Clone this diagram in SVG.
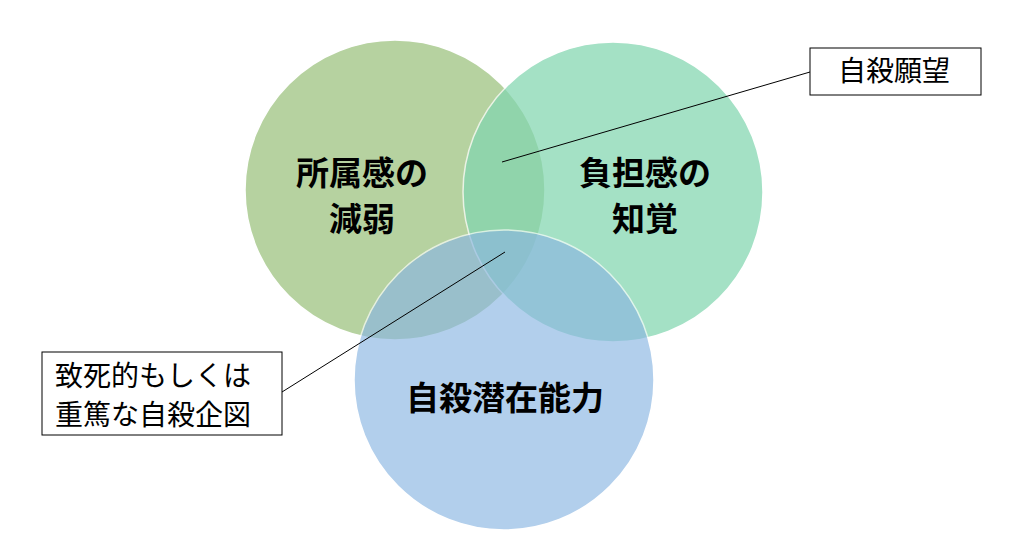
<svg xmlns="http://www.w3.org/2000/svg" width="1011" height="542" viewBox="0 0 1011 542">
<style>
.c{stroke:#fff;stroke-width:1.5;opacity:0.72}
.t{font-family:"Noto Sans CJK JP",sans-serif;font-weight:bold;font-size:33px;fill:#000;text-anchor:middle}
.b{fill:#fff;stroke:#000;stroke-width:1}
.bt{font-family:"Noto Sans CJK JP",sans-serif;font-size:28px;fill:#000}
.l{stroke:#000;stroke-width:1;fill:none}
</style>
<rect width="1011" height="542" fill="#fff"/>
<g id="n1"><circle class="c" cx="395" cy="190" r="150" fill="#9bc27c"/></g>
<g id="n2"><circle class="c" cx="613" cy="192" r="150" fill="#82d6b0"/></g>
<g id="n3"><circle class="c" cx="504" cy="380" r="150" fill="#8ab6e2" style="opacity:0.65"/></g>
<g id="labels">
<text class="t" x="362" y="185">所属感の</text><text class="t" x="362" y="231">減弱</text>
<text class="t" x="645" y="185">負担感の</text><text class="t" x="645" y="231">知覚</text>
<text class="t" x="505" y="410">自殺潜在能力</text>
</g>
<g id="connectors">
<line class="l" x1="810" y1="72" x2="502" y2="162"/>
<line class="l" x1="282" y1="392" x2="505" y2="252"/>
</g>
<g id="callout1"><rect class="b" x="810" y="48" width="171" height="47"/><text class="bt" x="838" y="81">自殺願望</text></g>
<g id="callout2"><rect class="b" x="42" y="352" width="240" height="83"/><text class="bt" x="55" y="386">致死的もしくは</text><text class="bt" x="55" y="425">重篤な自殺企図</text></g>
</svg>
